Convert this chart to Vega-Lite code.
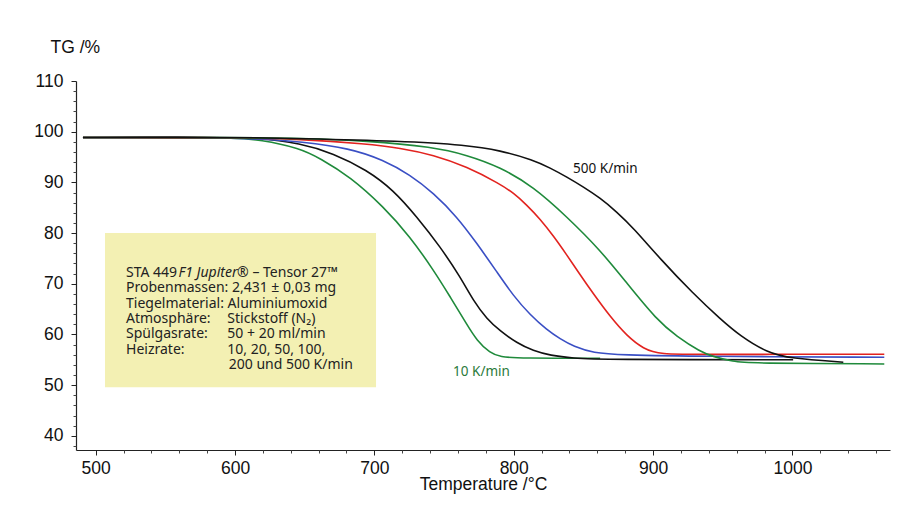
{
  "$schema": "https://vega.github.io/schema/vega-lite/v6.json",
  "width": 814,
  "height": 369,
  "autosize": {"type": "none"},
  "padding": {"left": 76, "top": 81, "right": 9, "bottom": 76},
  "background": "white",
  "config": {"view": {"stroke": null}, "axis": {"labelOverlap": false, "labelFlush": false, "grid": false}},
  "resolve": {"axis": {"x": "independent", "y": "independent"}},
  "datasets": {
    "curves": [
      {"rate": "10", "T": 490.9, "TG": 98.85}, {"rate": "10", "T": 530, "TG": 98.85}, {"rate": "10", "T": 570, "TG": 98.8}, {"rate": "10", "T": 598.6, "TG": 98.75}, {"rate": "10", "T": 618, "TG": 98.45}, {"rate": "10", "T": 646.7, "TG": 96.73}, {"rate": "10", "T": 661, "TG": 94.75}, {"rate": "10", "T": 682.6, "TG": 91.12}, {"rate": "10", "T": 706.5, "TG": 85.21}, {"rate": "10", "T": 725.6, "TG": 79.29}, {"rate": "10", "T": 742.4, "TG": 72.72}, {"rate": "10", "T": 754.3, "TG": 67.46}, {"rate": "10", "T": 766.3, "TG": 62.0}, {"rate": "10", "T": 773.5, "TG": 58.8}, {"rate": "10", "T": 783.1, "TG": 56.3}, {"rate": "10", "T": 790.2, "TG": 55.55}, {"rate": "10", "T": 804.6, "TG": 55.31}, {"rate": "10", "T": 862, "TG": 55.3},
      {"rate": "20", "T": 490.9, "TG": 98.85}, {"rate": "20", "T": 530, "TG": 98.9}, {"rate": "20", "T": 580, "TG": 98.85}, {"rate": "20", "T": 617.2, "TG": 98.75}, {"rate": "20", "T": 646.7, "TG": 97.71}, {"rate": "20", "T": 670.6, "TG": 95.74}, {"rate": "20", "T": 694.5, "TG": 92.45}, {"rate": "20", "T": 713.6, "TG": 88.5}, {"rate": "20", "T": 730.4, "TG": 83.23}, {"rate": "20", "T": 747.2, "TG": 77.32}, {"rate": "20", "T": 761.5, "TG": 71.4}, {"rate": "20", "T": 771.1, "TG": 66.61}, {"rate": "20", "T": 780.7, "TG": 63.06}, {"rate": "20", "T": 790.2, "TG": 60.69}, {"rate": "20", "T": 802.2, "TG": 58.32}, {"rate": "20", "T": 814.1, "TG": 56.75}, {"rate": "20", "T": 826.1, "TG": 55.86}, {"rate": "20", "T": 842.9, "TG": 55.31}, {"rate": "20", "T": 862, "TG": 55.05}, {"rate": "20", "T": 1000.5, "TG": 55.0},
      {"rate": "50", "T": 490.9, "TG": 98.85}, {"rate": "50", "T": 560, "TG": 98.9}, {"rate": "50", "T": 620, "TG": 98.6}, {"rate": "50", "T": 646.7, "TG": 98.03}, {"rate": "50", "T": 682.6, "TG": 96.73}, {"rate": "50", "T": 706.5, "TG": 94.4}, {"rate": "50", "T": 725.6, "TG": 91.5}, {"rate": "50", "T": 742.4, "TG": 87.9}, {"rate": "50", "T": 759.2, "TG": 83.23}, {"rate": "50", "T": 773.5, "TG": 78.0}, {"rate": "50", "T": 787.9, "TG": 72.33}, {"rate": "50", "T": 799.8, "TG": 67.59}, {"rate": "50", "T": 811.8, "TG": 63.85}, {"rate": "50", "T": 823.8, "TG": 60.89}, {"rate": "50", "T": 833.3, "TG": 59.11}, {"rate": "50", "T": 842.9, "TG": 57.63}, {"rate": "50", "T": 857.2, "TG": 56.35}, {"rate": "50", "T": 876.4, "TG": 55.96}, {"rate": "50", "T": 933.8, "TG": 55.66}, {"rate": "50", "T": 1065.9, "TG": 55.5},
      {"rate": "100", "T": 490.9, "TG": 98.85}, {"rate": "100", "T": 600, "TG": 98.85}, {"rate": "100", "T": 646.7, "TG": 98.56}, {"rate": "100", "T": 694.5, "TG": 97.57}, {"rate": "100", "T": 718.5, "TG": 96.79}, {"rate": "100", "T": 742.4, "TG": 95.4}, {"rate": "100", "T": 766.3, "TG": 93.1}, {"rate": "100", "T": 790.2, "TG": 89.68}, {"rate": "100", "T": 799.8, "TG": 87.91}, {"rate": "100", "T": 809.4, "TG": 85.54}, {"rate": "100", "T": 818.9, "TG": 82.78}, {"rate": "100", "T": 828.5, "TG": 79.43}, {"rate": "100", "T": 838.1, "TG": 75.68}, {"rate": "100", "T": 847.7, "TG": 71.74}, {"rate": "100", "T": 857.2, "TG": 67.99}, {"rate": "100", "T": 869.2, "TG": 63.51}, {"rate": "100", "T": 881.2, "TG": 59.7}, {"rate": "100", "T": 893.1, "TG": 57.14}, {"rate": "100", "T": 905.1, "TG": 56.06}, {"rate": "100", "T": 933.8, "TG": 56.06}, {"rate": "100", "T": 1065.9, "TG": 56.1},
      {"rate": "200", "T": 490.9, "TG": 98.85}, {"rate": "200", "T": 600, "TG": 98.85}, {"rate": "200", "T": 646.7, "TG": 98.7}, {"rate": "200", "T": 694.5, "TG": 98.22}, {"rate": "200", "T": 742.4, "TG": 96.98}, {"rate": "200", "T": 766.3, "TG": 95.4}, {"rate": "200", "T": 790.2, "TG": 93.04}, {"rate": "200", "T": 814.1, "TG": 89.15}, {"rate": "200", "T": 838.1, "TG": 83.23}, {"rate": "200", "T": 862, "TG": 76.67}, {"rate": "200", "T": 881.2, "TG": 70.1}, {"rate": "200", "T": 902.7, "TG": 62.86}, {"rate": "200", "T": 917.1, "TG": 59.57}, {"rate": "200", "T": 933.8, "TG": 56.61}, {"rate": "200", "T": 943.1, "TG": 55.62}, {"rate": "200", "T": 957.5, "TG": 54.63}, {"rate": "200", "T": 969.7, "TG": 54.32}, {"rate": "200", "T": 1065.9, "TG": 54.18},
      {"rate": "500", "T": 490.9, "TG": 98.85}, {"rate": "500", "T": 600, "TG": 98.9}, {"rate": "500", "T": 646.7, "TG": 98.66}, {"rate": "500", "T": 718.5, "TG": 98.17}, {"rate": "500", "T": 766.3, "TG": 97.38}, {"rate": "500", "T": 790.2, "TG": 96.29}, {"rate": "500", "T": 814.1, "TG": 94.42}, {"rate": "500", "T": 826.1, "TG": 92.84}, {"rate": "500", "T": 838.1, "TG": 91.07}, {"rate": "500", "T": 850.0, "TG": 89.09}, {"rate": "500", "T": 862.0, "TG": 86.92}, {"rate": "500", "T": 874.0, "TG": 84.16}, {"rate": "500", "T": 885.9, "TG": 81.01}, {"rate": "500", "T": 905.1, "TG": 74.89}, {"rate": "500", "T": 929.0, "TG": 67.99}, {"rate": "500", "T": 948.2, "TG": 63.06}, {"rate": "500", "T": 962.5, "TG": 59.7}, {"rate": "500", "T": 981.7, "TG": 56.45}, {"rate": "500", "T": 998.4, "TG": 55.27}, {"rate": "500", "T": 1036.5, "TG": 54.52}
    ],
    "box": [{"T1": 506.7, "T2": 701.2, "TG1": 49.6, "TG2": 80.0}],
    "notes": [
      {"T": 521.8, "TG": 72.2, "text": "STA 449"},
      {"T": 601.5, "TG": 72.2, "text": "® – Tensor 27™"},
      {"T": 521.8, "TG": 69.15, "text": "Probenmassen: 2,431 ± 0,03 mg"},
      {"T": 521.8, "TG": 66.1, "text": "Tiegelmaterial: Aluminiumoxid"},
      {"T": 521.8, "TG": 63.05, "text": "Atmosphäre:"},
      {"T": 594.5, "TG": 63.05, "text": "Stickstoff (N₂)"},
      {"T": 521.8, "TG": 60.0, "text": "Spülgasrate:"},
      {"T": 594.5, "TG": 60.0, "text": "50 + 20 ml/min"},
      {"T": 521.8, "TG": 56.95, "text": "Heizrate:"},
      {"T": 594.5, "TG": 56.95, "text": "10, 20, 50, 100,"},
      {"T": 595.5, "TG": 53.9, "text": "200 und 500 K/min"}
    ],
    "notesItalic": [{"T": 559.5, "TG": 72.2, "text": "F1 Jupiter"}],
    "labelBlack": [{"T": 842.6, "TG": 92.6, "text": "500 K/min"}],
    "labelGreen": [{"T": 756.5, "TG": 52.6, "text": "10 K/min"}]
  },
  "layer": [
    {
      "data": {"name": "box"},
      "mark": {"type": "rect", "fill": "#f3f0b3"},
      "encoding": {
        "x": {"field": "T1", "type": "quantitative", "scale": {"domain": [485.9, 1070], "nice": false, "zero": false},
          "axis": {
            "orient": "bottom",
            "title": "Temperature /°C",
            "values": [500, 600, 700, 800, 900, 1000],
            "format": "d",
            "tickSize": 5,
            "tickColor": "#222", "domainColor": "#222", "domainWidth": 1.2,
            "labelFont": "Liberation Sans", "labelFontSize": 17.5, "labelColor": "#111", "labelPadding": 4,
            "titleFont": "Liberation Sans", "titleFontSize": 17.5, "titleFontWeight": "normal", "titleColor": "#111", "titlePadding": -1
          }},
        "x2": {"field": "T2"},
        "y": {"field": "TG1", "type": "quantitative", "scale": {"domain": [37.2, 110], "nice": false, "zero": false},
          "axis": {
            "orient": "left",
            "title": "TG /%",
            "values": [40, 50, 60, 70, 80, 90, 100, 110],
            "format": "d",
            "tickSize": 5,
            "tickColor": "#222", "domainColor": "#222", "domainWidth": 1.2,
            "labelFont": "Liberation Sans", "labelFontSize": 17.5, "labelColor": "#111", "labelPadding": 8,
            "titleFont": "Liberation Sans", "titleFontSize": 17.5, "titleFontWeight": "normal", "titleColor": "#111",
            "titleAngle": 0, "titleAlign": "left", "titleBaseline": "middle", "titleX": -26, "titleY": -34
          }},
        "y2": {"field": "TG2"}
      }
    },
    {
      "data": {"name": "curves"},
      "mark": {"type": "line", "strokeWidth": 1.6, "interpolate": "basis"},
      "encoding": {
        "x": {"field": "T", "type": "quantitative",
          "axis": {"orient": "bottom", "title": null, "labels": false, "domain": false, "tickSize": 3, "tickColor": "#444",
            "values": [520, 540, 560, 580, 620, 640, 660, 680, 720, 740, 760, 780, 820, 840, 860, 880, 920, 940, 960, 980, 1020, 1040, 1060]}},
        "y": {"field": "TG", "type": "quantitative",
          "axis": {"orient": "left", "title": null, "labels": false, "domain": false, "tickSize": 3, "tickColor": "#444",
            "values": [38, 42, 44, 46, 48, 52, 54, 56, 58, 62, 64, 66, 68, 72, 74, 76, 78, 82, 84, 86, 88, 92, 94, 96, 98, 102, 104, 106, 108]}},
        "color": {"field": "rate", "type": "nominal", "legend": null,
          "scale": {"domain": ["10", "20", "50", "100", "200", "500"], "range": ["#1f8a3b", "#111111", "#3a4fc4", "#e2231f", "#1f8a3b", "#111111"]}},
        "detail": {"field": "rate"}
      }
    },
    {
      "data": {"name": "notes"},
      "mark": {"type": "text", "align": "left", "baseline": "middle", "font": "Noto Sans", "fontSize": 14, "color": "#222"},
      "encoding": {
        "x": {"field": "T", "type": "quantitative", "axis": null},
        "y": {"field": "TG", "type": "quantitative", "axis": null},
        "text": {"field": "text"}
      }
    },
    {
      "data": {"name": "notesItalic"},
      "mark": {"type": "text", "align": "left", "baseline": "middle", "font": "Noto Sans", "fontSize": 14, "fontStyle": "italic", "color": "#222"},
      "encoding": {
        "x": {"field": "T", "type": "quantitative", "axis": null},
        "y": {"field": "TG", "type": "quantitative", "axis": null},
        "text": {"field": "text"}
      }
    },
    {
      "data": {"name": "labelBlack"},
      "mark": {"type": "text", "align": "left", "baseline": "middle", "font": "Noto Sans", "fontSize": 13.5, "color": "#111"},
      "encoding": {
        "x": {"field": "T", "type": "quantitative", "axis": null},
        "y": {"field": "TG", "type": "quantitative", "axis": null},
        "text": {"field": "text"}
      }
    },
    {
      "data": {"name": "labelGreen"},
      "mark": {"type": "text", "align": "left", "baseline": "middle", "font": "Noto Sans", "fontSize": 13.5, "color": "#2a7a3a"},
      "encoding": {
        "x": {"field": "T", "type": "quantitative", "axis": null},
        "y": {"field": "TG", "type": "quantitative", "axis": null},
        "text": {"field": "text"}
      }
    }
  ]
}
